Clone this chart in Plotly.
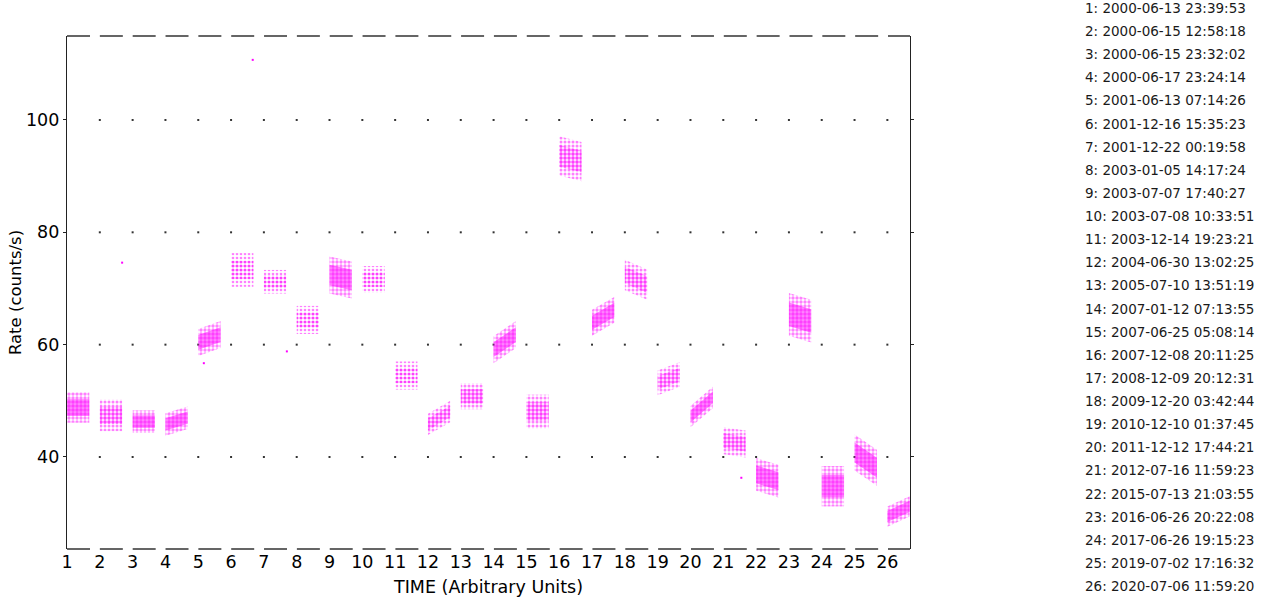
import plotly.graph_objects as go

# ---------------- data ----------------
runs = list(range(1, 27))
run_labels = [str(r) for r in runs]
obs_dates = [
    "2000-06-13 23:39:53", "2000-06-15 12:58:18", "2000-06-15 23:32:02",
    "2000-06-17 23:24:14", "2001-06-13 07:14:26", "2001-12-16 15:35:23",
    "2001-12-22 00:19:58", "2003-01-05 14:17:24", "2003-07-07 17:40:27",
    "2003-07-08 10:33:51", "2003-12-14 19:23:21", "2004-06-30 13:02:25",
    "2005-07-10 13:51:19", "2007-01-12 07:13:55", "2007-06-25 05:08:14",
    "2007-12-08 20:11:25", "2008-12-09 20:12:31", "2009-12-20 03:42:44",
    "2010-12-10 01:37:45", "2011-12-12 17:44:21", "2012-07-16 11:59:23",
    "2015-07-13 21:03:55", "2016-06-26 20:22:08", "2017-06-26 19:15:23",
    "2019-07-02 17:16:32", "2020-07-06 11:59:20",
]
# rate at start / end of each observation segment (counts/s)
rate_start = [48.8, 47.4, 46.3, 45.8, 60.4, 73.3, 71.2, 64.4, 72.4, 71.6,
              54.5, 45.8, 50.8, 59.1, 48.1, 93.6, 63.9, 72.4, 53.2, 47.2,
              42.9, 36.9, 65.4, 34.8, 40.8, 29.4]
rate_end = [48.8, 47.4, 46.3, 47.0, 61.8, 73.3, 71.2, 64.4, 71.5, 71.6,
            54.5, 48.1, 50.8, 61.8, 48.1, 92.6, 66.2, 70.7, 54.7, 50.6,
            42.3, 35.7, 64.2, 34.8, 38.1, 31.2]
# half-width of the scatter of each segment (counts/s)
rate_spread = [2.7, 2.8, 2.0, 2.0, 2.4, 3.0, 2.1, 2.5, 3.3, 2.4,
               2.5, 1.9, 2.3, 2.4, 3.0, 3.5, 2.3, 2.7, 2.2, 1.9,
               2.4, 2.9, 3.8, 3.6, 3.2, 1.8]
# how densely each segment is sampled (1 sparse .. 3 dense)
density = [3, 2, 3, 3, 3, 1, 1, 1, 3, 1, 1, 2, 2, 3, 2, 2, 3, 2, 2, 3,
           2, 3, 3, 3, 3, 3]
# isolated points
outlier_x = [2.68, 6.66, 7.7, 5.17, 21.55]
outlier_y = [74.6, 110.7, 58.8, 56.7, 36.3]

y_ticks = [40, 60, 80, 100]

# ---------------- styling ----------------
MAG = "#ff00ff"
SEG_W = 0.68
FONT = "DejaVu Sans"
# (fill alpha, pattern solidity) for outer halo and for dense core
outer_style = {1: (0.10, 0.35), 2: (0.22, 0.45), 3: (0.35, 0.55)}
core_style = {1: (0.30, 0.50), 2: (0.60, 0.70), 3: (0.85, 0.90)}

fig = go.Figure()

# dotted grid (dots at each run position on each y tick)
gx, gy = [], []
for yv in y_ticks:
    for r in runs[1:]:
        gx.append(r)
        gy.append(yv)
fig.add_trace(go.Scatter(x=gx, y=gy, mode="markers",
                         marker=dict(symbol="square", size=2, color="#333"),
                         hoverinfo="skip"))

for r, a, b, s, d in zip(runs, rate_start, rate_end, rate_spread, density):
    for frac, (alpha, sol) in ((1.0, outer_style[d]), (0.55, core_style[d])):
        h = s * frac
        xs = [r, r + SEG_W, r + SEG_W, r, r]
        ys = [a - h, b - h, b + h, a + h, a - h]
        fig.add_trace(go.Scatter(
            x=xs, y=ys, mode="none", fill="toself",
            fillcolor=f"rgba(255,0,255,{alpha})",
            fillpattern=dict(shape=".", fgcolor=MAG, bgcolor="rgba(0,0,0,0)",
                             size=4, solidity=sol),
            hoverinfo="skip"))

fig.add_trace(go.Scatter(x=outlier_x, y=outlier_y, mode="markers",
                         marker=dict(symbol="square", size=2, color=MAG),
                         hoverinfo="skip"))

# list of observation dates on the right
for i, (r, dt) in enumerate(zip(runs, obs_dates)):
    ypx = 8 + 23.12 * i
    fig.add_annotation(text=f"{r}: {dt}", xref="paper", yref="paper",
                       x=(1083 - 67) / 843, y=(549 - ypx) / 513,
                       xanchor="left", yanchor="middle", showarrow=False,
                       font=dict(family=FONT, size=13.5, color="#1a1a1a"))

# dashed top and bottom borders
for yy in (0, 1):
    fig.add_shape(type="line", xref="paper", yref="paper", x0=0, x1=1,
                  y0=yy, y1=yy, line=dict(color="#333", width=1.3,
                                           dash="23px,9.84px"))

fig.update_layout(
    width=1265, height=600,
    margin=dict(l=67, r=355, t=36, b=51, autoexpand=False),
    paper_bgcolor="white", plot_bgcolor="white",
    showlegend=False,
    font=dict(family=FONT, color="#000"),
    xaxis=dict(range=[1, 26.69], tickmode="array", tickvals=runs,
               ticktext=run_labels, showgrid=False, zeroline=False,
               showline=False, ticks="", tickfont=dict(size=17.5),
               automargin=False,
               title=dict(text="TIME (Arbitrary Units)",
                          font=dict(size=17.5), standoff=10)),
    yaxis=dict(range=[23.62, 114.95], tickmode="array", tickvals=y_ticks,
               showgrid=False, zeroline=False, showline=True,
               linecolor="#222", linewidth=1.3, mirror="ticks",
               ticks="outside", ticklen=3, tickcolor="#222",
               tickfont=dict(size=17.5), automargin=False,
               title=dict(text="Rate (counts/s)", font=dict(size=16.5),
                          standoff=0)),
)

fig.write_html("out.html")
